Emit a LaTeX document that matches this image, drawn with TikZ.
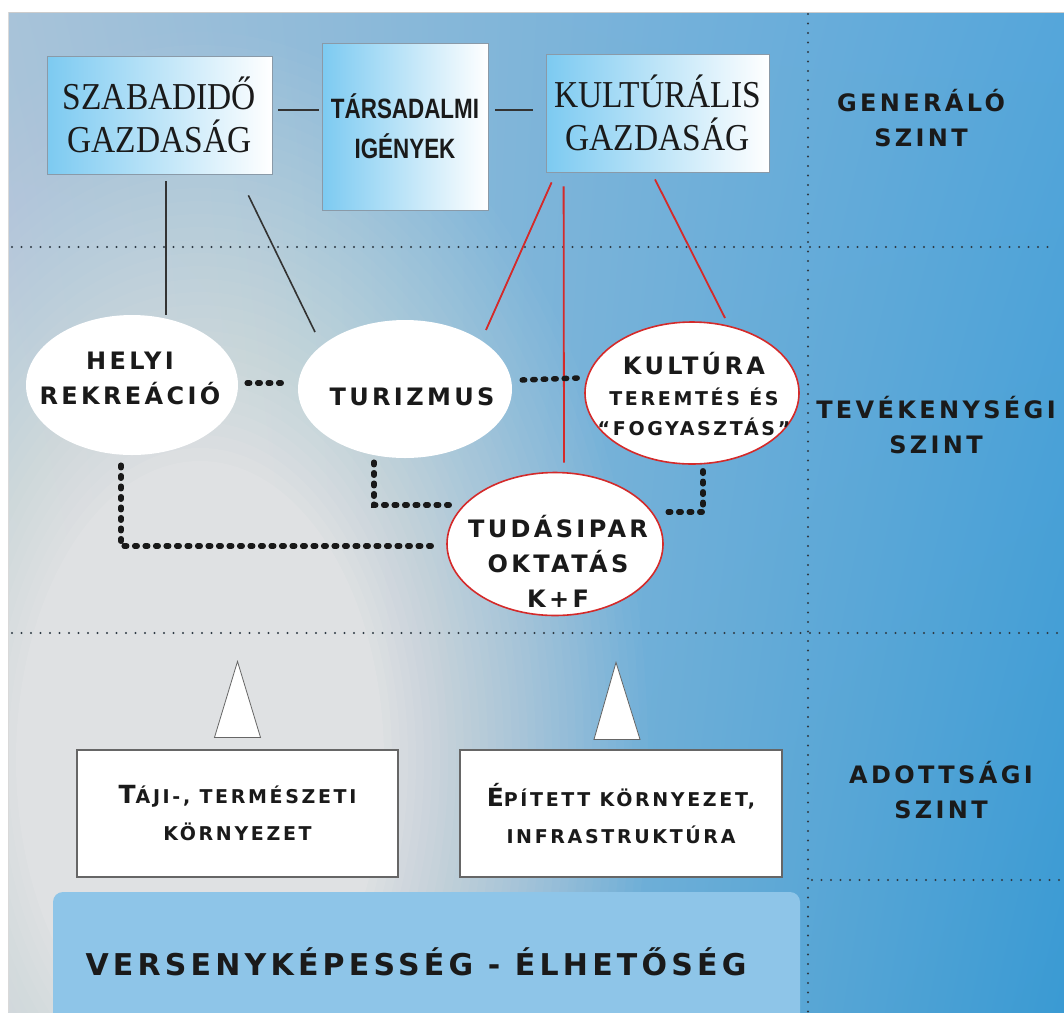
\documentclass[tikz,border=0pt]{standalone}
\usepackage{fontspec}
\usetikzlibrary{shapes.geometric,calc,shadings}
\setmainfont{DejaVu Sans}
\newfontfamily\wfont[LetterSpace=14]{DejaVu Sans}
\newfontfamily\serfont[FakeStretch=0.88]{Liberation Serif}
\newfontfamily\condfont[FakeStretch=0.8]{Liberation Sans}
\definecolor{bgUL}{HTML}{A8C3D9}
\definecolor{bgUR}{HTML}{55A6DA}
\definecolor{bgLL}{HTML}{B8CCDC}
\definecolor{bgLR}{HTML}{3A9AD3}
\definecolor{bgGray}{HTML}{DFE1E3}
\definecolor{boxblue}{HTML}{7CCAF1}
\definecolor{boxmid}{HTML}{BDE3F7}
\definecolor{boxline}{HTML}{8A9AA8}
\definecolor{ellred}{HTML}{D42A2A}
\definecolor{dotc}{HTML}{2E3A44}
\definecolor{barblue}{HTML}{8EC5E8}
\definecolor{txt}{HTML}{1A1A1A}
\newcommand\scbig[1]{{\fontsize{25}{30}\selectfont #1}}
\begin{document}
\begin{tikzpicture}[x=1pt,y=-1pt,
  topbox/.style={draw=boxline, line width=0.8pt, left color=boxblue, middle color=boxmid, right color=white, inner sep=0pt, align=center, text=txt},
  sertext/.style={font=\serfont\fontsize{38}{43}\selectfont},
  ell/.style={ellipse, fill=white, inner sep=0pt},
  redell/.style={ell, draw=ellred, line width=1.6pt},
  wtext/.style={font=\wfont\bfseries\fontsize{24}{35}\selectfont, align=center, text=txt, inner sep=0pt},
  beads/.style={line width=5.5pt, dash pattern=on 2.5pt off 8pt, line cap=round, draw=black!90},
  gridline/.style={draw=dotc, line width=2.2pt, dash pattern=on 0pt off 9.5pt, line cap=round},
  blk/.style={line width=1.6pt, draw=black!80},
  redl/.style={line width=1.8pt, draw=ellred},
  lowbox/.style={draw=black!60, line width=1.2pt, fill=white, inner sep=0pt, align=center, text=txt,
    font=\wfont\bfseries\fontsize{19}{37}\selectfont},
  tri/.style={fill=white, draw=black!60, line width=0.8pt}
]
\useasboundingbox (0,0) rectangle (1064,1012);
\fill[white] (0,0) rectangle (1064,1012);
% background
\begin{scope}
\clip (8,12) rectangle (1064,1012);
\shade[upper left=bgUL, upper right=bgUR, lower left=bgLL, lower right=bgLR] (8,12) rectangle (1064,1012);
\foreach \i in {1,...,34} {
  \pgfmathsetmacro\rr{1.4-(\i-1)*0.025}
  \pgfmathsetmacro\aa{1/(35-\i)}
  \fill[bgGray, opacity=\aa] (200,760) ellipse ({320*\rr} and {520*\rr});
}
\fill[barblue, rounded corners=10pt] (53,892) rectangle (800,1040);
\end{scope}
\draw[black!20, line width=0.8pt] (8,12) -- (1064,12);
\draw[black!15, line width=0.8pt] (8,12) -- (8,1012);

% grid lines
\draw[gridline] (808,14) -- (808,1012);
\draw[gridline] (12,247) -- (1050,247);
\draw[gridline] (12,633) -- (1064,633);
\draw[gridline] (812,880) -- (1064,880);

% level labels
\node[wtext] (gen) at (921,118) {GENERÁLÓ\\SZINT};
\node[wtext] (tev) at (936,425) {TEVÉKENYSÉGI\\SZINT};
\node[wtext] (ado) at (941,790) {ADOTTSÁGI\\SZINT};

% top boxes
\node[topbox, sertext, minimum width=225pt, minimum height=118pt] (szab) at (159.5,115) {SZABADIDŐ\\GAZDASÁG};
\node[topbox, font=\condfont\bfseries\fontsize{28}{40}\selectfont, minimum width=166pt, minimum height=167pt] (tars) at (405,126.5) {TÁRSADALMI\\IGÉNYEK};
\node[topbox, sertext, minimum width=223pt, minimum height=118pt] (kult) at (657.5,113) {KULTÚRÁLIS\\GAZDASÁG};

\draw[blk, line width=1.2pt] ($(szab.east)+(6,-5)$) -- ($(tars.west)+(-3,-16.5)$);
\draw[blk, line width=1.2pt] ($(tars.east)+(7,-16.5)$) -- ($(kult.west)+(-13,-3)$);

% ellipses
\node[ell, minimum width=212pt, minimum height=140pt] (helyi) at (132,385) {};
\node[ell, minimum width=214pt, minimum height=138pt] (tur) at (405,389) {};
\node[redell, minimum width=214pt, minimum height=142pt] (kul) at (692,393) {};
\node[redell, minimum width=216pt, minimum height=143pt] (tudas) at (555,544) {};

\node[wtext] (helyit) at (130,378) {HELYI\\REKREÁCIÓ};
\node[wtext] (turt) at (412,397) {TURIZMUS};
\node[wtext, align=center] (kult2) at (694,394) {KULTÚRA\\[-4pt]{\fontsize{19}{30}\selectfont TEREMTÉS ÉS}\\[-5pt]{\fontsize{19}{30}\selectfont “FOGYASZTÁS”}};
\node[wtext] (tudast) at (558,561) {TUDÁSIPAR\\OKTATÁS\\K+F};

% lines from top boxes
\draw[blk] ($(szab.south)+(6.5,7)$) -- ($(helyi.center)+(34,-70)$);
\draw[blk] ($(szab.south east)+(-24,21)$) -- ($(tur.center)+(-90,-57)$);
\draw[redl] ($(kult.south west)+(6,10)$) -- ($(tur.center)+(81,-59)$);
\draw[redl] ($(kult.south west)+(18,14)$) -- ($(tudas.north)+(9,-9)$);
\draw[redl] ($(kult.south)+(-2.5,7)$) -- ($(kul.center)+(33,-75)$);

% beaded connectors
\draw[beads] ($(helyi.east)+(9,-2)$) -- ($(tur.west)+(-10,-6)$);
\draw[beads] ($(tur.east)+(10,-9)$) -- ($(kul.west)+(-6,-15)$);
\draw[beads] ($(helyi.south)+(-11,10)$) |- ($(tudas.west)+(-14,2)$);
\draw[beads] ($(tur.south)+(-31,4)$) |- ($(tudas.west)+(3,-39)$);
\draw[beads] ($(kul.south)+(11,6)$) |- ($(tudas.east)+(-1,-32)$);

% bottom boxes
\node[lowbox, minimum width=321pt, minimum height=127pt] (taji) at (237.5,813.5) {\scbig{T}ÁJI-, TERMÉSZETI\\KÖRNYEZET};
\node[lowbox, minimum width=322pt, minimum height=127pt] (epit) at (621,813.5) {\scbig{É}PÍTETT KÖRNYEZET,\\INFRASTRUKTÚRA};

\draw[tri] ($(taji.north)+(0,-88)$) -- ($(taji.north)+(23,-12)$) -- ($(taji.north)+(-23,-12)$) -- cycle;
\draw[tri] ($(epit.north)+(-5,-87)$) -- ($(epit.north)+(19,-10)$) -- ($(epit.north)+(-27,-10)$) -- cycle;

\node[font=\wfont\bfseries\fontsize{30}{36}\selectfont, text=txt, inner sep=0pt] (vers) at (416,962) {VERSENYKÉPESSÉG - ÉLHETŐSÉG};
\end{tikzpicture}
\end{document}
